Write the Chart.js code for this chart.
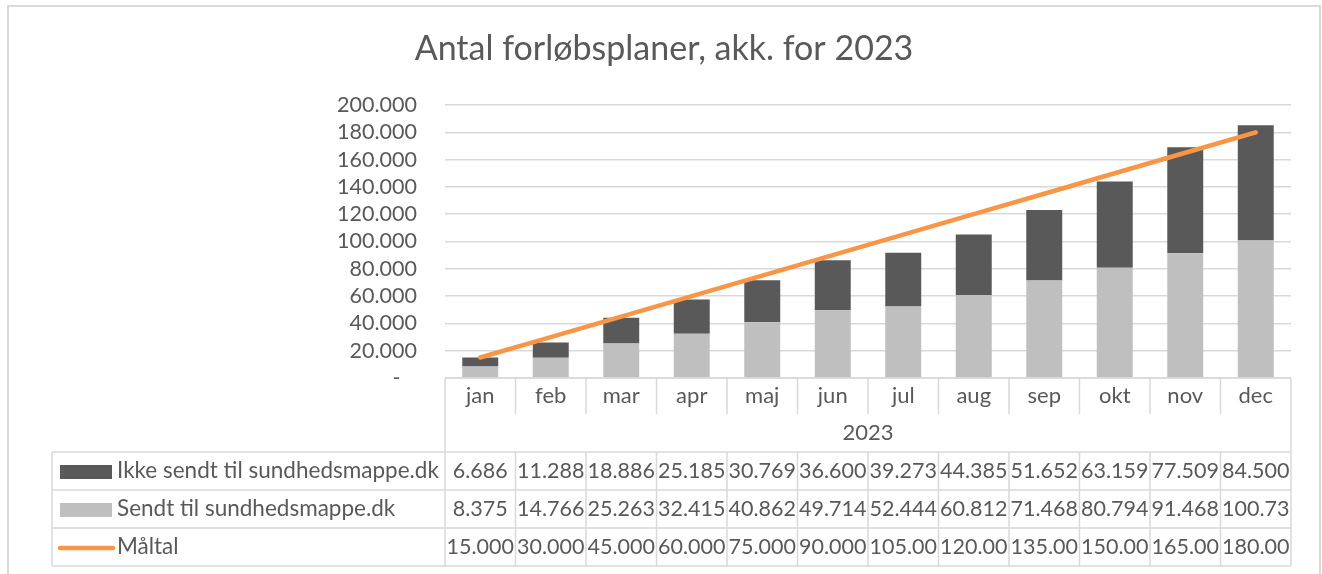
<!DOCTYPE html>
<html>
<head>
<meta charset="utf-8">
<script src="https://cdn.jsdelivr.net/npm/chart.js@4.4.1/dist/chart.umd.min.js"></script>
<style>
  html, body { margin: 0; padding: 0; background: #ffffff; }
  #wrap { position: relative; width: 1322px; height: 574px; }
</style>
</head>
<body>
<div id="wrap"><canvas id="c" width="1322" height="574"></canvas></div>
<script>
const titleText = 'Antal forløbsplaner, akk. for 2023';
const months = ['jan','feb','mar','apr','maj','jun','jul','aug','sep','okt','nov','dec'];
const yearLabel = '2023';
const ikkeLabel = 'Ikke sendt til sundhedsmappe.dk';
const sendtLabel = 'Sendt til sundhedsmappe.dk';
const maalLabel = 'Måltal';
const ikkeSendt = [6686, 11288, 18886, 25185, 30769, 36600, 39273, 44385, 51652, 63159, 77509, 84500];
const sendt = [8375, 14766, 25263, 32415, 40862, 49714, 52444, 60812, 71468, 80794, 91468, 100730];
const maaltal = [15000, 30000, 45000, 60000, 75000, 90000, 105000, 120000, 135000, 150000, 165000, 180000];

const FONT = 'Lato';
const TXT = '#595959';
const GRID = '#d9d9d9';

function fmt(v) { return String(Math.round(v)).replace(/\B(?=(\d{3})+(?!\d))/g, '.'); }
function cellText(v) { return fmt(v).slice(0, 6); }

const framePlugin = {
  id: 'frame',
  beforeDraw(chart) {
    const ctx = chart.ctx;
    ctx.save();
    ctx.strokeStyle = GRID;
    ctx.lineWidth = 2;
    ctx.strokeRect(8, 6, 1312, 600);
    ctx.restore();
  }
};

const tablePlugin = {
  id: 'dataTable',
  afterDraw(chart) {
    const ctx = chart.ctx;
    const xs = chart.scales.x;
    const ca = chart.chartArea;
    const n = months.length;
    const colW = (ca.right - ca.left) / n;
    const b = ca.bottom;
    const tableLeft = 52;
    const yMonthEnd = b + 36;
    const yRows = [b + 74, b + 112, b + 150, b + 188];
    ctx.save();
    ctx.strokeStyle = GRID;
    ctx.lineWidth = 1.5;
    ctx.beginPath();
    ctx.moveTo(ca.left, b); ctx.lineTo(ca.right, b);
    for (let i = 1; i < n; i++) {
      const x = ca.left + i * colW;
      ctx.moveTo(x, b); ctx.lineTo(x, yMonthEnd);
      ctx.moveTo(x, yRows[0]); ctx.lineTo(x, yRows[3]);
    }
    ctx.moveTo(ca.left, b); ctx.lineTo(ca.left, yRows[3]);
    ctx.moveTo(ca.right, b); ctx.lineTo(ca.right, yRows[3]);
    ctx.moveTo(tableLeft, yRows[0]); ctx.lineTo(tableLeft, yRows[3]);
    yRows.forEach(y => { ctx.moveTo(tableLeft, y); ctx.lineTo(ca.right, y); });
    ctx.stroke();

    ctx.fillStyle = TXT;
    ctx.font = '22px ' + FONT;
    ctx.textBaseline = 'middle';
    ctx.textAlign = 'center';
    ctx.fillText(yearLabel, (ca.left + ca.right) / 2, (yMonthEnd + yRows[0]) / 2);

    const ds = chart.data.datasets;
    const rows = [
      { d: ds[2], vals: ikkeSendt, label: ikkeLabel, key: 'bar' },
      { d: ds[1], vals: sendt, label: sendtLabel, key: 'bar' },
      { d: ds[0], vals: maaltal, label: maalLabel, key: 'line' }
    ];
    rows.forEach((r, ri) => {
      const yc = (yRows[ri] + yRows[ri + 1]) / 2;
      if (r.key === 'bar') {
        ctx.fillStyle = r.d.backgroundColor;
        ctx.fillRect(tableLeft + 8, yc - 6, 52, 14);
      } else {
        ctx.strokeStyle = r.d.borderColor;
        ctx.lineWidth = 4.5;
        ctx.lineCap = 'round';
        ctx.beginPath();
        ctx.moveTo(tableLeft + 8, yc + 1); ctx.lineTo(tableLeft + 61, yc + 1);
        ctx.stroke();
      }
      ctx.fillStyle = TXT;
      ctx.textAlign = 'left';
      ctx.font = '22.5px ' + FONT;
      ctx.fillText(r.label, tableLeft + 65, yc);
      ctx.textAlign = 'center';
      ctx.font = '21.5px ' + FONT;
      r.vals.forEach((v, i) => {
        ctx.fillText(cellText(v), xs.getPixelForValue(i), yc);
      });
    });
    ctx.restore();
  }
};

new Chart(document.getElementById('c'), {
  type: 'bar',
  data: {
    labels: months,
    datasets: [
      {
        type: 'line', label: maalLabel, data: maaltal, stack: 'line', order: 0,
        borderColor: '#F79646', backgroundColor: '#F79646', borderWidth: 4.5,
        borderCapStyle: 'round', pointRadius: 0, pointHoverRadius: 0, tension: 0, fill: false
      },
      {
        type: 'bar', label: sendtLabel, data: sendt, stack: 'bars', order: 1,
        backgroundColor: '#BFBFBF', borderWidth: 0,
        barPercentage: 0.51, categoryPercentage: 1
      },
      {
        type: 'bar', label: ikkeLabel, data: ikkeSendt, stack: 'bars', order: 2,
        backgroundColor: '#595959', borderWidth: 0,
        barPercentage: 0.51, categoryPercentage: 1
      }
    ]
  },
  options: {
    responsive: false,
    animation: false,
    devicePixelRatio: 1,
    layout: { autoPadding: false, padding: { left: 37, right: 31, top: 0, bottom: 0 } },
    plugins: {
      legend: { display: false },
      tooltip: { enabled: false },
      title: {
        display: true, text: titleText, color: TXT,
        font: { family: FONT, size: 34, weight: 'normal' },
        padding: { top: 29, bottom: 35.2 }
      }
    },
    scales: {
      x: {
        stacked: true,
        grid: { display: false },
        border: { display: false },
        ticks: { color: TXT, font: { family: FONT, size: 22 }, padding: -3, maxRotation: 0, autoSkip: false },
        afterFit(s) { s.height = 196; }
      },
      y: {
        stacked: true,
        min: 0, max: 200000,
        grid: { color: GRID, lineWidth: 1.5, drawTicks: false },
        border: { display: false },
        ticks: {
          stepSize: 20000, autoSkip: false, color: TXT, font: { family: FONT, size: 21.5 }, padding: 28,
          callback: v => v === 0 ? '-   ' : fmt(v)
        },
        afterFit(s) { s.width = 408; }
      }
    }
  },
  plugins: [framePlugin, tablePlugin]
});
</script>
</body>
</html>
